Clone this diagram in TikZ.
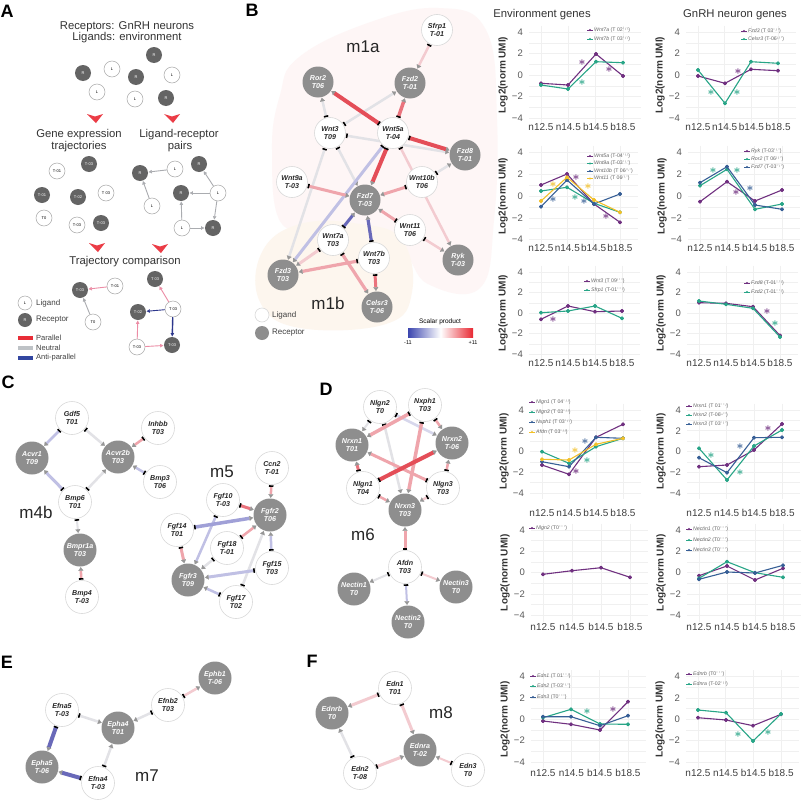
\documentclass[tikz,border=0pt]{standalone}
\usepackage{fontspec}
\setmainfont{Liberation Sans}
\usetikzlibrary{arrows.meta}
\pgfdeclarelayer{bg}
\pgfdeclarelayer{edges}
\pgfsetlayers{bg,edges,main}
\definecolor{recg}{RGB}{142,142,142}
\definecolor{darkg}{RGB}{100,100,100}
\definecolor{arrg}{RGB}{150,150,150}
\definecolor{cr}{RGB}{228,78,88}
\definecolor{crt}{RGB}{234,115,125}
\definecolor{cp}{RGB}{239,165,172}
\definecolor{cpl}{RGB}{243,203,208}
\definecolor{cg}{RGB}{226,226,230}
\definecolor{cb}{RGB}{105,105,185}
\definecolor{cbm}{RGB}{160,160,215}
\definecolor{cbl}{RGB}{192,192,228}
\definecolor{cbx}{RGB}{215,215,236}
\definecolor{purp}{RGB}{112,48,128}
\definecolor{tealc}{RGB}{40,165,135}
\definecolor{bluec}{RGB}{55,95,150}
\definecolor{yelc}{RGB}{242,192,40}
\definecolor{blobp}{RGB}{254,246,246}
\definecolor{bloby}{RGB}{253,246,238}
\definecolor{chevc}{RGB}{235,60,70}
\definecolor{apink}{RGB}{236,140,165}
\definecolor{agray}{RGB}{170,172,176}
\definecolor{ablue}{RGB}{45,55,140}
\definecolor{legred}{RGB}{232,45,55}
\definecolor{leggray}{RGB}{190,194,198}
\definecolor{legblue}{RGB}{50,70,160}
\definecolor{cbblue}{RGB}{60,70,175}
\definecolor{cbred}{RGB}{232,40,50}
\newcommand\nodef{\fontsize{7.1}{7.9}\selectfont\bfseries\itshape}
\newcommand\anf{\fontsize{4}{4.5}\selectfont}
\newcommand\lgtf{\fontsize{5.2}{6}\selectfont}
\newcommand\astf{\fontsize{12}{12}\selectfont\boldmath}
\newcommand\symx[1]{{\fontsize{3.6}{4}\selectfont\raisebox{0.7ex}{#1}}}
\tikzset{
 lg/.style={circle,draw=gray!30,line width=0.6pt,fill=white,minimum size=31pt,inner sep=0pt,align=center,font=\nodef,text=black!85},
 rc/.style={circle,draw=none,fill=recg,minimum size=31pt,inner sep=0pt,align=center,font=\nodef,text=white},
 big/.style={minimum size=33pt},
 al/.style={circle,draw=gray!70,line width=0.5pt,fill=white,minimum size=16pt,inner sep=0pt,font=\anf},
 ar/.style={circle,fill=darkg,minimum size=16pt,inner sep=0pt,font=\anf,text=white},
 ed/.style={shorten <=0.5pt,shorten >=0.5pt,{Bar[color=black,width=4.5pt,line width=1.6pt]}-{Triangle[length=3.6pt,width=5pt,color=arrg,fill=arrg,line width=0.2pt]}},
 aar/.style={line width=0.9pt,shorten >=0.5pt,-{Triangle[length=3.2pt,width=3.4pt,line width=0.2pt]}},
 ttl/.style={font=\fontsize{11.3}{12}\selectfont,text=black!80,inner sep=0pt},
 pl/.style={font=\fontsize{18}{18}\selectfont\bfseries,inner sep=0pt},
 ml/.style={font=\fontsize{17}{17}\selectfont,inner sep=0pt,text=black!85},
 gridc/.style={draw=gray!12,line width=0.5pt},
 tickl/.style={anchor=east,font=\fontsize{9.5}{10}\selectfont,text=black!65,inner sep=0pt},
 ylab/.style={rotate=90,font=\fontsize{10}{10}\selectfont\bfseries,text=black!80,inner sep=0pt},
 xlab/.style={font=\fontsize{10}{10}\selectfont,text=black!75,inner sep=0pt},
 lgt/.style={font=\lgtf,text=black!60,inner sep=0pt},
 legt/.style={anchor=west,font=\fontsize{7.5}{8}\selectfont,text=black!75,inner sep=0pt},
 astn/.style={font=\astf,inner sep=0pt},
}
\newcommand\edg[4]{\draw[ed,draw=#3,line width=#4pt] (#1) -- (#2);}
\newcommand\pframe[5]{%
  \foreach \vv in {-4,-3,...,4}{\draw[gridc] ({#1-12},{#3-(\vv)*#4}) -- ({#1+3*#2+18},{#3-(\vv)*#4});}
  \foreach \ii in {0,1,2,3}{\draw[gridc] ({#1+\ii*#2},{#3-4.6*#4}) -- ({#1+\ii*#2},{#3+4.6*#4});}
  \foreach \vv/\ll in {4/4,2/2,0/0,-2/−2,-4/−4}{\node[tickl] at ({#1-18},{#3-(\vv)*#4}) {\ll};}
  \node[ylab] at ({#1-38},#3) {Log2(norm UMI)};
  \foreach \ii/\ll in {0/n12.5,1/n14.5,2/b14.5,3/b18.5}{\node[xlab] at ({#1+\ii*#2},#5) {\ll};}
}
\newcommand\ser[2]{\draw[#1,line width=1.1pt,line join=round] plot[mark=*,mark size=1.5pt,mark options={#1}] coordinates {#2};}
\newcommand\sig[3]{\node[astn,text=#1] at (#2,#3) {$\ast$};}
\newcommand\lgd[5]{\draw[#3,line width=0.7pt] ({#1-3},#2) -- ({#1+3},#2); \fill[#3] (#1,#2) circle (1.2pt); \node[lgt,anchor=west] at ({#1+4},#2) {\textit{#4} #5};}
\newcommand\dart[2]{\fill[chevc] ({#1-8},{#2-4}) -- (#1,{#2-1.5}) -- ({#1+8},{#2-4}) -- ({#1+1},{#2+5}) -- cycle;}
\begin{document}
\begin{tikzpicture}[x=1pt,y=-1pt]
\useasboundingbox (0,0) rectangle (803,803);
\begin{pgfonlayer}{bg}
\fill[white] (0,0) rectangle (803,803);
\end{pgfonlayer}

% ================= Panel A =================
\node[pl] (lA) at (7,11) {A};
\node[ttl] (tA1) at (127,27) {Receptors: GnRH neurons};
\node[ttl] (tA2) at (127,38) {Ligands: environment};
\node[ar] (a1) at (154,55) {R};
\node[ar] (a2) at (83,73) {R};
\node[al] (a3) at (112,69) {L};
\node[ar] (a4) at (136,77) {R};
\node[al] (a5) at (172,75) {L};
\node[al] (a6) at (97,92) {L};
\node[al] (a7) at (135,99) {L};
\node[ar] (a8) at (166,98) {R};
\dart{95}{118}
\dart{172}{118}
\node[ttl] (tA3) at (79,135) {Gene expression};
\node[ttl] (tA4) at (79,147) {trajectories};
\node[ttl] (tA5) at (179,135) {Ligand-receptor};
\node[ttl] (tA6) at (180,147) {pairs};
\node[al] (g1) at (57,171) {T-01};
\node[ar] (g2) at (89,164) {T-03};
\node[ar] (g3) at (42,195) {T-01};
\node[ar] (g4) at (78,197) {T-02};
\node[al] (g5) at (106,193) {T 03};
\node[al] (g6) at (44,218) {T0};
\node[al] (g7) at (77,225) {T-03};
\node[ar] (g8) at (101,223) {T-03};
\node[ar] (p1) at (140,173) {R};
\node[al] (p2) at (175,169) {L};
\node[al] (p3) at (152,206) {L};
\node[ar] (p4) at (199,164) {R};
\node[ar] (p5) at (181,193) {R};
\node[al] (p6) at (218,193) {L};
\node[al] (p7) at (182,228) {L};
\node[ar] (p8) at (213,228) {R};
\dart{97}{247}
\dart{160}{248}
\node[ttl] (tA7) at (125,262) {Trajectory comparison};
\node[ar] (c1) at (80,290) {T-03};
\node[al] (c2) at (115,286) {T-01};
\node[al] (c3) at (93,322) {T0};
\node[ar] (c4) at (155,279) {T 03};
\node[al] (c5) at (173,309) {T 03};
\node[ar] (c6) at (138,312) {T-02};
\node[al] (c7) at (137,347) {T-03};
\node[ar] (c8) at (172,345) {T-03};
\draw[aar,agray] (p2) -- (p1);
\draw[aar,agray] (p3) -- (p1);
\draw[aar,agray] (p6) -- (p5);
\draw[aar,agray] (p6) -- (p4);
\draw[aar,agray] (p6) -- (p8);
\draw[aar,agray] (p7) -- (p5);
\draw[aar,agray] (p7) -- (p8);
\draw[aar,apink] (c2) -- (c1);
\draw[aar,agray] (c3) -- (c1);
\draw[aar,apink] (c5) -- (c4);
\draw[aar,ablue] (c5) -- (c6);
\draw[aar,ablue,line width=1.4pt] (c5) -- (c8);
\draw[aar,apink] (c7) -- (c6);
\draw[aar,apink] (c7) -- (c8);
\node[al,minimum size=14pt] (lgL) at (25,303) {L};
\node[legt,font=\fontsize{8}{8}\selectfont] (lgLt) at (36,303) {Ligand};
\node[ar,minimum size=14pt] (lgR) at (25,320) {R};
\node[legt,font=\fontsize{8}{8}\selectfont] (lgRt) at (36,320) {Receptor};
\fill[legred] (18,336) rectangle (33,340);
\node[legt] (lgP) at (36,338) {Parallel};
\fill[leggray] (18,346) rectangle (33,350);
\node[legt] (lgN) at (36,348) {Neutral};
\fill[legblue] (18,356) rectangle (33,360);
\node[legt] (lgA) at (36,358) {Anti-parallel};

% ================= Panel B network =================
\begin{pgfonlayer}{bg}
\fill[blobp] plot[smooth cycle,tension=0.7] coordinates {(298,58) (365,24) (438,8) (486,30) (497,120) (494,220) (480,288) (428,284) (398,248) (330,224) (282,224) (272,150) (280,95)};
\fill[bloby] plot[smooth cycle,tension=0.7] coordinates {(262,252) (300,224) (360,224) (402,240) (412,292) (386,324) (300,328) (260,302)};
\end{pgfonlayer}
\node[pl] (lB) at (252,10) {B};
\node[ml] (m1a) at (363,47) {m1a};
\node[ml] (m1b) at (328,303) {m1b};
\node[lg] (sfrp1) at (437,30) {Sfrp1\\T-01};
\node[rc] (ror2) at (318,82) {Ror2\\T06};
\node[rc] (fzd2) at (410,83) {Fzd2\\T-01};
\node[lg] (wnt3) at (330,133) {Wnt3\\T09};
\node[lg] (wnt5a) at (393,133) {Wnt5a\\T-04};
\node[rc] (fzd8) at (465,155) {Fzd8\\T-01};
\node[lg] (wnt9a) at (292,182) {Wnt9a\\T-03};
\node[lg] (wnt10b) at (422,182) {Wnt10b\\T06};
\node[rc] (fzd7) at (365,200) {Fzd7\\T-03};
\node[lg] (wnt11) at (410,230) {Wnt11\\T06};
\node[lg] (wnt7a) at (333,240) {Wnt7a\\T03};
\node[lg] (wnt7b) at (374,258) {Wnt7b\\T03};
\node[rc] (ryk) at (458,260) {Ryk\\T-03};
\node[rc] (fzd3) at (283,275) {Fzd3\\T03};
\node[rc] (celsr3) at (377,307) {Celsr3\\T-06};
\begin{pgfonlayer}{edges}
\edg{sfrp1}{fzd2}{cpl}{2.5}
\edg{wnt3}{ror2}{cg}{2.5}
\edg{wnt3}{fzd2}{cg}{2.5}
\edg{wnt3}{fzd8}{cg}{2.5}
\edg{wnt3}{fzd7}{cg}{2.5}
\edg{wnt3}{fzd3}{cg}{2.5}
\edg{wnt10b}{fzd8}{cg}{2.5}
\edg{wnt5a}{ryk}{cpl}{2.5}
\edg{wnt5a}{fzd3}{cbl}{3}
\edg{wnt5a}{ror2}{cr}{4}
\edg{wnt5a}{fzd2}{crt}{3.5}
\edg{wnt5a}{fzd8}{cr}{4}
\edg{wnt5a}{fzd7}{cr}{4}
\edg{wnt10b}{fzd7}{cp}{3}
\edg{wnt9a}{fzd7}{cp}{3}
\edg{wnt11}{fzd7}{cp}{3}
\edg{wnt11}{ryk}{cpl}{2.5}
\edg{wnt7a}{fzd7}{cb}{3}
\edg{wnt7b}{fzd7}{cb}{3.2}
\edg{wnt7a}{fzd3}{cpl}{3}
\edg{wnt7a}{celsr3}{cp}{3.2}
\edg{wnt7b}{fzd3}{cp}{3.2}
\edg{wnt7b}{celsr3}{crt}{3}
\end{pgfonlayer}
\node[lg,minimum size=14pt] (blL) at (262,315) {};
\node[legt,font=\fontsize{8}{8}\selectfont] (blLt) at (272,315) {Ligand};
\node[rc,minimum size=14pt] (blR) at (262,333) {};
\node[legt,font=\fontsize{8}{8}\selectfont] (blRt) at (272,333) {Receptor};
\node[font=\fontsize{6.5}{7}\selectfont,inner sep=0pt] (sct) at (440,322) {Scalar product};
\shade[left color=cbblue,right color=cbred,middle color=white] (408,328) rectangle (473,337);
\node[font=\fontsize{5.5}{6}\selectfont,inner sep=0pt] (scm) at (408,343) {-11};
\node[font=\fontsize{5.5}{6}\selectfont,inner sep=0pt] (scp) at (473,343) {+11};

% ================= Panel C =================
\node[pl] (lC) at (8,382) {C};
\node[ml] (m4b) at (36,512) {m4b};
\node[ml] (m5) at (222,472) {m5};
\node[lg,big] (gdf5) at (72,418) {Gdf5\\T01};
\node[lg,big] (inhbb) at (158,428) {Inhbb\\T03};
\node[rc,big] (acvr1) at (32,458) {Acvr1\\T09};
\node[rc,big] (acvr2b) at (118,457) {Acvr2b\\T03};
\node[lg,big] (bmp3) at (160,482) {Bmp3\\T06};
\node[lg,big] (bmp6) at (75,502) {Bmp6\\T01};
\node[rc,big] (bmpr1a) at (80,550) {Bmpr1a\\T03};
\node[lg,big] (bmp4) at (82,597) {Bmp4\\T-03};
\node[lg,big] (ccn2) at (272,468) {Ccn2\\T-01};
\node[lg,big] (fgf10) at (223,500) {Fgf10\\T-03};
\node[rc,big] (fgfr2) at (270,515) {Fgfr2\\T06};
\node[lg,big] (fgf14) at (177,530) {Fgf14\\T01};
\node[lg,big] (fgf18) at (227,548) {Fgf18\\T-01};
\node[lg,big] (fgf15) at (272,568) {Fgf15\\T03};
\node[rc,big] (fgfr3) at (188,580) {Fgfr3\\T09};
\node[lg,big] (fgf17) at (236,602) {Fgf17\\T02};
\begin{pgfonlayer}{edges}
\edg{gdf5}{acvr1}{cbl}{2.5}
\edg{gdf5}{acvr2b}{cg}{2.5}
\edg{inhbb}{acvr2b}{cp}{2.5}
\edg{bmp3}{acvr2b}{cbl}{2.5}
\edg{bmp6}{acvr1}{cbl}{3}
\edg{bmp6}{acvr2b}{cg}{2.5}
\edg{bmp6}{bmpr1a}{cg}{2}
\edg{bmp4}{bmpr1a}{cp}{2.5}
\edg{ccn2}{fgfr2}{cp}{2.5}
\edg{fgf17}{fgfr2}{cg}{2.5}
\edg{fgf18}{fgfr3}{cg}{2.5}
\edg{fgf10}{fgfr3}{cbl}{2.5}
\edg{fgf10}{fgfr2}{crt}{3}
\edg{fgf14}{fgfr2}{cbm}{3.5}
\edg{fgf14}{fgfr3}{cp}{3}
\edg{fgf18}{fgfr2}{cp}{2.5}
\edg{fgf15}{fgfr2}{cbl}{2.5}
\edg{fgf15}{fgfr3}{cbl}{3}
\edg{fgf17}{fgfr3}{cbl}{2.5}
\end{pgfonlayer}

% ================= Panel D =================
\node[pl] (lD) at (326,389) {D};
\node[ml] (m6) at (363,535) {m6};
\node[lg,big] (nlgn2) at (380,407) {Nlgn2\\T0};
\node[lg,big] (nxph1) at (425,405) {Nxph1\\T03};
\node[rc,big] (nrxn1) at (352,445) {Nrxn1\\T01};
\node[rc,big] (nrxn2) at (452,443) {Nrxn2\\T-06};
\node[lg,big] (nlgn1) at (363,488) {Nlgn1\\T04};
\node[lg,big] (nlgn3) at (443,488) {Nlgn3\\T03};
\node[rc,big] (nrxn3) at (405,510) {Nrxn3\\T03};
\node[lg,big] (afdn) at (405,567) {Afdn\\T03};
\node[rc,big] (nectin1) at (354,589) {Nectin1\\T0};
\node[rc,big] (nectin3) at (456,587) {Nectin3\\T0};
\node[rc,big] (nectin2) at (408,622) {Nectin2\\T0};
\begin{pgfonlayer}{edges}
\edg{nlgn2}{nrxn1}{cg}{2}
\edg{nlgn2}{nrxn3}{cg}{2.5}
\edg{nlgn2}{nrxn2}{cbx}{2.5}
\edg{nlgn3}{nrxn1}{cp}{3}
\edg{nxph1}{nrxn1}{cp}{3.5}
\edg{nxph1}{nrxn3}{cp}{3.5}
\edg{nxph1}{nrxn2}{cp}{2.5}
\edg{nlgn1}{nrxn1}{crt}{3}
\edg{nlgn1}{nrxn2}{cr}{4}
\edg{nlgn1}{nrxn3}{cp}{2.5}
\edg{nlgn3}{nrxn2}{cp}{2.5}
\edg{nlgn3}{nrxn3}{cpl}{2.5}
\edg{afdn}{nrxn3}{cp}{3}
\edg{afdn}{nectin1}{cg}{2}
\edg{afdn}{nectin2}{cbl}{2}
\edg{afdn}{nectin3}{cpl}{2}
\end{pgfonlayer}

% ================= Panel E =================
\node[pl] (lE) at (7,662) {E};
\node[ml] (m7) at (147,776) {m7};
\node[rc,big] (ephb1) at (215,678) {Ephb1\\T-06};
\node[lg,big] (efnb2) at (168,705) {Efnb2\\T03};
\node[lg,big] (efna5) at (62,710) {Efna5\\T-03};
\node[rc,big] (epha4) at (118,728) {Epha4\\T01};
\node[rc,big] (epha5) at (42,767) {Epha5\\T-06};
\node[lg,big] (efna4) at (98,783) {Efna4\\T-03};
\begin{pgfonlayer}{edges}
\edg{efnb2}{ephb1}{cpl}{2.5}
\edg{efnb2}{epha4}{cg}{2.5}
\edg{efna5}{epha4}{cg}{2.5}
\edg{efna5}{epha5}{cb}{4}
\edg{efna4}{epha5}{cb}{4}
\edg{efna4}{epha4}{cg}{2.5}
\end{pgfonlayer}

% ================= Panel F =================
\node[pl] (lF) at (312,661) {F};
\node[ml] (m8) at (441,713) {m8};
\node[lg,big] (edn1) at (395,688) {Edn1\\T01};
\node[rc,big] (ednrb) at (332,713) {Ednrb\\T0};
\node[rc,big] (ednra) at (420,750) {Ednra\\T-02};
\node[lg,big] (edn2) at (360,773) {Edn2\\T-08};
\node[lg,big] (edn3) at (468,770) {Edn3\\T0};
\begin{pgfonlayer}{edges}
\edg{edn1}{ednrb}{cpl}{3}
\edg{edn1}{ednra}{cpl}{3}
\edg{edn2}{ednrb}{cg}{2.5}
\edg{edn2}{ednra}{cpl}{3}
\edg{edn3}{ednra}{cpl}{2}
\end{pgfonlayer}

% ================= Plots =================
\node[ttl] (envt) at (542,15) {Environment genes};
\node[ttl] (gnrt) at (735,15) {GnRH neuron genes};
% row 1
\pframe{541}{27.3}{75}{10.75}{127}
\ser{purp}{(541,83.3) (568,85) (596,54) (623,76)}
\ser{tealc}{(541,85) (568,89) (596,61.7) (623,62.7)}
\sig{purp}{582}{63}\sig{purp}{609}{70}\sig{tealc}{582}{83}
\lgd{590}{30}{purp}{Wnt7a}{(T 02\symx{° / \textbackslash})}
\lgd{590}{39}{tealc}{Wnt7b}{(T 03\symx{° / /})}
\pframe{698}{26.7}{75}{10.75}{127}
\ser{purp}{(698,76) (725,83.3) (751,69.3) (778,70.7)}
\ser{tealc}{(698,70) (725,103.3) (751,61.7) (778,63.3)}
\sig{tealc}{711}{93}\sig{purp}{738}{72}\sig{tealc}{737}{93}
\lgd{744}{31}{purp}{Fzd3}{(T 03\symx{° / °})}
\lgd{744}{39}{tealc}{Celsr3}{(T-06\symx{\textbackslash{} / °})}
% row 2
\pframe{541}{26.3}{196}{10.9}{248}
\ser{purp}{(541,185) (567,174) (594,204) (620,222.3)}
\ser{tealc}{(541,191) (567,187.3) (594,203.3) (620,212.3)}
\ser{bluec}{(541,206.7) (567,180) (594,204) (620,194)}
\ser{yelc}{(541,201) (567,177.3) (594,200) (620,212.3)}
\sig{purp}{576}{178}\sig{yelc}{553}{185}\sig{yelc}{588}{186.5}\sig{bluec}{553}{200}
\sig{tealc}{575}{198}\sig{bluec}{584}{201.5}\sig{purp}{606}{217}
\lgd{590}{156}{purp}{Wnt5a}{(T-04\symx{° \textbackslash{} \textbackslash})}
\lgd{590}{163.5}{tealc}{Wnt9a}{(T-03\symx{° \textbackslash{} °})}
\lgd{590}{171}{bluec}{Wnt10b}{(T 06\symx{/ \textbackslash{} °})}
\lgd{590}{178.5}{yelc}{Wnt11}{(T 06\symx{/ \textbackslash{} °})}
\pframe{700}{27.3}{196}{10.9}{248}
\ser{purp}{(700,201.7) (727,181.7) (755,201) (782,190)}
\ser{tealc}{(700,185.7) (727,169.3) (755,209.3) (782,204)}
\ser{bluec}{(700,182.7) (727,166.7) (755,205) (782,209.3)}
\sig{tealc}{713}{171}\sig{tealc}{737}{171}\sig{purp}{736}{193}\sig{bluec}{750}{189}
\lgd{747}{151}{purp}{Ryk}{(T-03\symx{° \textbackslash{} °})}
\lgd{747}{159}{tealc}{Ror2}{(T 06\symx{/ \textbackslash{} °})}
\lgd{747}{167}{bluec}{Fzd7}{(T-03\symx{° \textbackslash{} °})}
% row 3
\pframe{541}{27}{313}{10.25}{363}
\ser{purp}{(541,319.3) (568,306) (595,311.7) (622,311)}
\ser{tealc}{(541,312.7) (568,311) (595,306) (622,318.3)}
\sig{purp}{553}{320}
\lgd{587}{281}{purp}{Wnt3}{(T 09\symx{/ ° °})}
\lgd{587}{290}{tealc}{Sfrp1}{(T-01\symx{° ° \textbackslash})}
\pframe{699}{27}{313}{10.25}{363}
\ser{purp}{(699,302.7) (726,303.3) (753,306.7) (780,335.5)}
\ser{tealc}{(699,301) (726,304.3) (753,308.3) (780,337)}
\sig{purp}{767}{312}\sig{tealc}{775}{324}
\lgd{747}{283}{purp}{Fzd8}{(T-01\symx{° ° \textbackslash})}
\lgd{747}{292}{tealc}{Fzd2}{(T-01\symx{° ° \textbackslash})}
% row 4
\pframe{542}{27}{451.5}{10.4}{513}
\ser{purp}{(542,465) (569,474.3) (596,437.3) (623,424.3)}
\ser{tealc}{(542,451.7) (569,463.3) (596,446.7) (623,438.3)}
\ser{bluec}{(542,461.7) (569,466.7) (596,437.3) (623,438.3)}
\ser{yelc}{(542,459.3) (569,460) (596,444.3) (623,438.3)}
\sig{bluec}{585}{442}\sig{yelc}{575}{451}\sig{tealc}{587}{461}\sig{purp}{576}{472}
\lgd{532}{402}{purp}{Nlgn1}{(T 04\symx{° / /})}
\lgd{532}{412}{tealc}{Nlgn3}{(T 03\symx{° / /})}
\lgd{532}{422}{bluec}{Nxph1}{(T 03\symx{° / /})}
\lgd{532}{432}{yelc}{Afdn}{(T 03\symx{° / /})}
\pframe{699}{27.7}{451.5}{10.4}{513}
\ser{purp}{(699,466.7) (727,465) (754,450) (782,424)}
\ser{tealc}{(699,448.3) (727,480) (754,446) (782,430)}
\ser{bluec}{(699,457.7) (727,472.7) (754,437.7) (782,437.3)}
\sig{tealc}{711}{456}\sig{bluec}{740}{447}\sig{tealc}{740}{473}\sig{purp}{768}{429}
\lgd{689}{406}{purp}{Nrxn1}{(T 01\symx{° ° /})}
\lgd{689}{415}{tealc}{Nrxn2}{(T-06\symx{\textbackslash{} / °})}
\lgd{689}{424}{bluec}{Nrxn3}{(T 03\symx{° / °})}
% row 5
\pframe{543}{29}{572.7}{10.67}{627}
\ser{purp}{(543,574.3) (572,570.7) (601,567.7) (630,577.3)}
\lgd{532}{528}{purp}{Nlgn2}{(T0\symx{° ° °})}
\pframe{699}{28}{572.7}{10.67}{627}
\ser{purp}{(699,575.7) (727,566) (755,580) (783,568.3)}
\ser{tealc}{(699,578.3) (727,561.7) (755,572.7) (783,577.3)}
\ser{bluec}{(699,579.3) (727,572) (755,573) (783,565.3)}
\lgd{689}{529}{purp}{Nectin1}{(T0\symx{° ° °})}
\lgd{689}{540}{tealc}{Nectin2}{(T0\symx{° ° °})}
\lgd{689}{550}{bluec}{Nectin3}{(T0\symx{° ° °})}
% row 6
\pframe{543}{28.3}{719.3}{10.67}{773}
\ser{purp}{(543,721) (571,724.3) (600,730) (628,701.7)}
\ser{tealc}{(543,717.7) (571,709.3) (600,724) (628,724.3)}
\ser{bluec}{(543,716.7) (571,716.7) (600,725.7) (628,715.7)}
\sig{tealc}{587}{712}\sig{purp}{613}{710}
\lgd{533}{676}{purp}{Edn1}{(T 01\symx{° ° /})}
\lgd{533}{686}{tealc}{Edn2}{(T-03\symx{° \textbackslash{} °})}
\lgd{533}{697}{bluec}{Edn3}{(T0\symx{° ° °})}
\pframe{698}{27.7}{719.3}{10.67}{773}
\ser{purp}{(698,717.7) (726,720) (753,725.7) (781,714.3)}
\ser{tealc}{(698,710) (726,712.7) (753,741) (781,714)}
\sig{tealc}{738}{735}\sig{tealc}{768}{733}
\lgd{689}{674}{purp}{Ednrb}{(T0\symx{° ° °})}
\lgd{689}{684}{tealc}{Ednra}{(T-02\symx{° \textbackslash{} /})}
\end{tikzpicture}
\end{document}
